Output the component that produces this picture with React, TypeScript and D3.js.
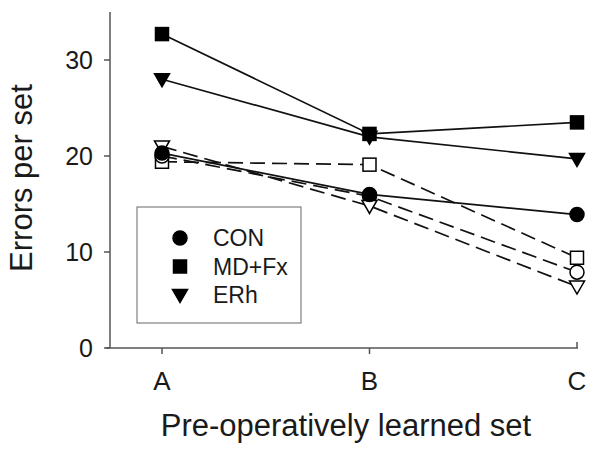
import React, { useEffect, useRef } from "react";
import * as d3 from "d3";

// categories on the x axis
const sets = ["A", "B", "C"];
const yTicks = [0, 10, 20, 30];

// pre-operative groups (filled, solid lines)
const conPre = [20.3, 16.0, 13.9];
const mdfxPre = [32.7, 22.3, 23.5];
const erhPre = [28.0, 22.0, 19.7];

// post-operative groups (open, dashed lines)
const conPost = [20.0, 15.8, 7.9];
const mdfxPost = [19.4, 19.1, 9.4];
const erhPost = [21.0, 14.8, 6.4];

const legendNames = ["CON", "MD+Fx", "ERh"];

const series = [
  { name: "MD+Fx-post", values: mdfxPost, shape: "square", filled: false, dashed: true },
  { name: "CON-post", values: conPost, shape: "circle", filled: false, dashed: true },
  { name: "ERh-post", values: erhPost, shape: "triangle", filled: false, dashed: true },
  { name: "CON", values: conPre, shape: "circle", filled: true, dashed: false },
  { name: "ERh", values: erhPre, shape: "triangle", filled: true, dashed: false },
  { name: "MD+Fx", values: mdfxPre, shape: "square", filled: true, dashed: false },
];

const FONT = "'Liberation Sans', Arial, sans-serif";

function drawMarker(g: any, shape: string, x: number, y: number, filled: boolean) {
  const fill = filled ? "#000" : "#fff";
  if (shape === "circle") {
    g.append("circle").attr("cx", x).attr("cy", y).attr("r", 7)
      .attr("fill", fill).attr("stroke", "#000").attr("stroke-width", 1.5);
  } else if (shape === "square") {
    g.append("rect").attr("x", x - 6.5).attr("y", y - 6.5).attr("width", 13).attr("height", 13)
      .attr("fill", fill).attr("stroke", "#000").attr("stroke-width", 1.5);
  } else {
    g.append("path")
      .attr("d", `M${x - 7.5},${y - 5.5} L${x + 7.5},${y - 5.5} L${x},${y + 7.5} Z`)
      .attr("fill", fill).attr("stroke", "#000").attr("stroke-width", 1.5);
  }
}

export default function App() {
  const ref = useRef<SVGSVGElement>(null);

  useEffect(() => {
    const svg = d3.select(ref.current);
    svg.selectAll("*").remove();

    const x = d3.scalePoint().domain(sets).range([162, 577]);
    const y = d3.scaleLinear().domain([0, 30]).range([348, 60]);

    const axisColor = "#555";
    const textColor = "#1a1a1a";

    // y axis
    svg.append("line").attr("x1", 110).attr("x2", 110).attr("y1", 12).attr("y2", 348)
      .attr("stroke", axisColor).attr("stroke-width", 1.5);
    svg.selectAll(".ytick").data(yTicks).join("line").attr("class", "ytick")
      .attr("x1", 104).attr("x2", 110).attr("y1", (d) => y(d)).attr("y2", (d) => y(d))
      .attr("stroke", axisColor).attr("stroke-width", 1.5);
    svg.selectAll(".ylab").data(yTicks).join("text").attr("class", "ylab")
      .attr("x", 93).attr("y", (d) => y(d) + 9).attr("text-anchor", "end")
      .attr("font-family", FONT).attr("font-size", 25).attr("fill", textColor)
      .text((d) => d);

    // x axis
    svg.append("line").attr("x1", 106).attr("x2", 578).attr("y1", 348).attr("y2", 348)
      .attr("stroke", axisColor).attr("stroke-width", 1.5);
    svg.selectAll(".xtick").data(sets).join("line").attr("class", "xtick")
      .attr("x1", (d) => x(d)!).attr("x2", (d) => x(d)!)
      .attr("y1", (d) => (d === "C" ? 342 : 348)).attr("y2", (d) => (d === "C" ? 348 : 354))
      .attr("stroke", axisColor).attr("stroke-width", 1.5);
    svg.selectAll(".xlab").data(sets).join("text").attr("class", "xlab")
      .attr("x", (d) => x(d)!).attr("y", 390).attr("text-anchor", "middle")
      .attr("font-family", FONT).attr("font-size", 26).attr("fill", textColor)
      .text((d) => d);

    // axis titles
    svg.append("text").attr("x", 346).attr("y", 436).attr("text-anchor", "middle")
      .attr("font-family", FONT).attr("font-size", 31).attr("fill", textColor)
      .text("Pre-operatively learned set");
    svg.append("text").attr("transform", "translate(32,178) rotate(-90)")
      .attr("text-anchor", "middle")
      .attr("font-family", FONT).attr("font-size", 31).attr("fill", textColor)
      .text("Errors per set");

    // lines
    const line = d3.line<number>().x((d, i) => x(sets[i])!).y((d) => y(d));
    series.forEach((s) => {
      svg.append("path").attr("d", line(s.values))
        .attr("fill", "none").attr("stroke", "#111").attr("stroke-width", 1.7)
        .attr("stroke-dasharray", s.dashed ? "15,7" : null);
    });
    series.forEach((s) => {
      const g = svg.append("g");
      s.values.forEach((v, i) => drawMarker(g, s.shape, x(sets[i])!, y(v), s.filled));
    });

    // legend
    const lg = svg.append("g");
    lg.append("rect").attr("x", 137).attr("y", 207).attr("width", 164).attr("height", 116)
      .attr("fill", "#fff").attr("stroke", "#666").attr("stroke-width", 1);
    const legendShapes = ["circle", "square", "triangle"];
    legendNames.forEach((n, i) => {
      const cy = 238 + i * 28.5;
      drawMarker(lg, legendShapes[i], 180, cy, true);
      lg.append("text").attr("x", 213).attr("y", cy + 8)
        .attr("font-family", FONT).attr("font-size", 23).attr("fill", textColor).text(n);
    });
  }, []);

  return (
    <svg ref={ref} width={589} height={453}
      style={{ position: "absolute", left: 0, top: 0, background: "#fff" }} />
  );
}
